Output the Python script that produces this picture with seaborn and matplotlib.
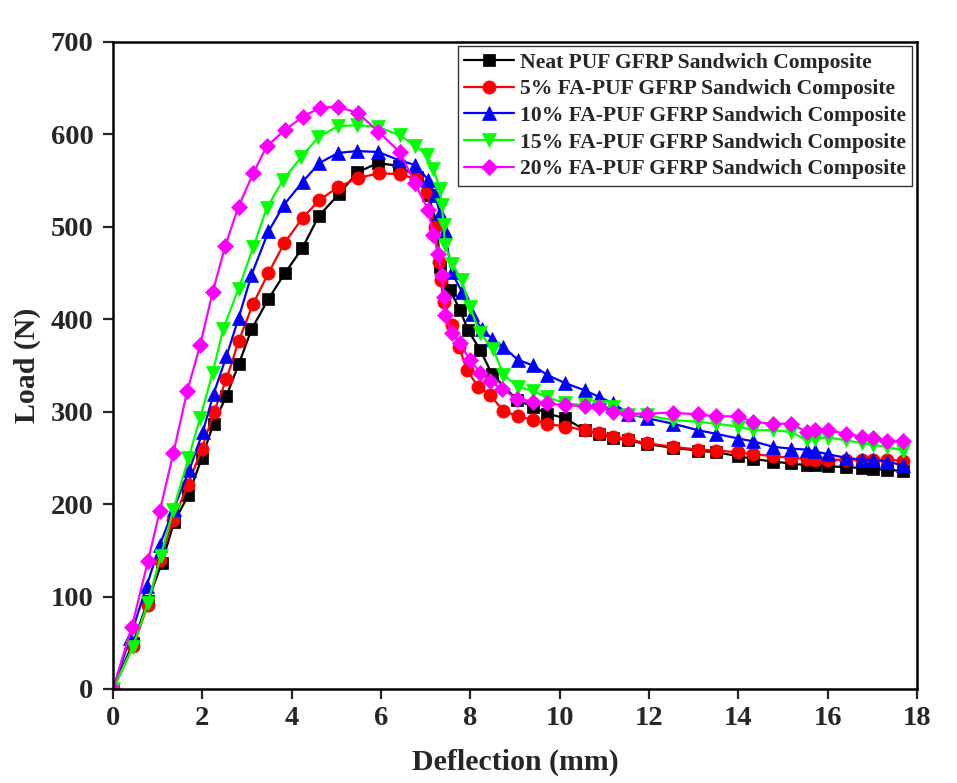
import matplotlib
matplotlib.use("Agg")
import matplotlib.pyplot as plt
import seaborn as sns
import pandas as pd

labels = ["Neat PUF GFRP Sandwich Composite",
          "5% FA-PUF GFRP Sandwich Composite",
          "10% FA-PUF GFRP Sandwich Composite",
          "15% FA-PUF GFRP Sandwich Composite",
          "20% FA-PUF GFRP Sandwich Composite"]

x_neat = [0, 0.45, 0.78, 1.09, 1.37, 1.69, 1.99, 2.25, 2.54, 2.82, 3.10, 3.48, 3.85, 4.24, 4.61, 5.07, 5.47,
          5.93, 6.40, 6.80, 7.05, 7.25, 7.32, 7.54, 7.77, 7.95, 8.22, 8.48, 9.04, 9.41, 9.71, 10.12, 10.57,
          10.88, 11.2, 11.54, 11.95, 12.54, 13.10, 13.51, 14.0, 14.33, 14.78, 15.19, 15.53, 15.72, 16.01,
          16.42, 16.76, 17.02, 17.32, 17.69]
y_neat = [0, 50, 95, 136, 181, 210, 250, 287, 317, 352, 389, 422, 450, 477, 512, 536, 559,
          569, 566, 554, 535, 504, 457, 432, 410, 388, 367, 341, 313, 305, 298, 293, 280,
          276, 272, 269, 265, 261, 258, 256, 252, 249, 246, 244, 242, 242, 241,
          240, 239, 238, 237, 236]

x_5 = [0, 0.45, 0.78, 1.05, 1.35, 1.68, 1.99, 2.26, 2.54, 2.81, 3.13, 3.48, 3.83, 4.25, 4.62, 5.04, 5.49,
       5.96, 6.42, 6.78, 7.02, 7.22, 7.30, 7.34, 7.40, 7.60, 7.75, 7.92, 8.18, 8.44, 8.74, 9.07, 9.41, 9.71,
       10.12, 10.57, 10.88, 11.2, 11.54, 11.95, 12.54, 13.10, 13.51, 14.0, 14.33, 14.78, 15.19, 15.53,
       15.72, 16.01, 16.42, 16.76, 17.02, 17.32, 17.69]
y_5 = [0, 46, 91, 140, 183, 221, 260, 300, 335, 376, 416, 450, 482, 510, 529, 543, 553,
       558, 557, 552, 538, 500, 462, 442, 419, 394, 370, 345, 327, 318, 301, 295, 291, 287,
       284, 280, 277, 273, 270, 266, 262, 259, 258, 256, 254, 252, 250, 249,
       248, 248, 248, 248, 248, 248, 247]

x_10 = [0, 0.38, 0.75, 1.05, 1.36, 1.71, 2.01, 2.25, 2.54, 2.81, 3.10, 3.48, 3.83, 4.25, 4.62, 5.04, 5.47,
        5.94, 6.41, 6.76, 7.06, 7.21, 7.32, 7.43, 7.58, 7.81, 8.03, 8.25, 8.48, 8.74, 9.07, 9.41, 9.71,
        10.12, 10.57, 10.88, 11.2, 11.54, 11.95, 12.54, 13.10, 13.51, 14.0, 14.33, 14.78, 15.19, 15.53,
        15.72, 16.01, 16.42, 16.76, 17.02, 17.32, 17.69]
y_10 = [0, 55, 111, 156, 195, 237, 278, 319, 360, 401, 448, 495, 524, 549, 569, 580, 582,
        581, 572, 567, 551, 534, 515, 495, 451, 430, 406, 390, 379, 370, 356, 350, 340,
        331, 323, 316, 309, 298, 293, 287, 280, 276, 271, 268, 262, 260, 259,
        257, 254, 250, 248, 248, 246, 242]

x_15 = [0, 0.44, 0.78, 1.07, 1.35, 1.69, 1.95, 2.23, 2.47, 2.81, 3.14, 3.44, 3.81, 4.22, 4.60, 5.04, 5.47,
        5.94, 6.42, 6.76, 7.02, 7.17, 7.32, 7.36, 7.40, 7.43, 7.60, 7.81, 7.99, 8.22, 8.51, 8.74, 9.07,
        9.41, 9.71, 10.12, 10.57, 10.88, 11.2, 11.54, 11.95, 12.54, 13.10, 13.51, 14.0, 14.33, 14.78,
        15.19, 15.53, 15.72, 16.01, 16.42, 16.76, 17.02, 17.32, 17.69]
y_15 = [0, 45, 93, 144, 194, 250, 293, 342, 390, 433, 478, 520, 551, 576, 597, 609, 610,
        608, 599, 588, 578, 563, 541, 524, 502, 480, 460, 442, 413, 385, 368, 340, 327,
        322, 316, 309, 307, 305, 305, 296, 296, 291, 289, 287, 284, 280, 280,
        278, 269, 271, 272, 269, 266, 264, 262, 258]

x_20 = [0, 0.42, 0.78, 1.05, 1.35, 1.66, 1.95, 2.23, 2.51, 2.81, 3.14, 3.44, 3.85, 4.25, 4.63, 5.04, 5.49,
        5.94, 6.42, 6.76, 7.06, 7.17, 7.28, 7.36, 7.40, 7.43, 7.58, 7.77, 7.99, 8.22, 8.44, 8.70, 9.04,
        9.41, 9.71, 10.12, 10.57, 10.88, 11.2, 11.54, 11.95, 12.54, 13.10, 13.51, 14.0, 14.33, 14.78,
        15.19, 15.53, 15.72, 16.01, 16.42, 16.76, 17.02, 17.32, 17.69]
y_20 = [0, 67, 138, 193, 255, 322, 372, 429, 479, 522, 558, 587, 605, 619, 629, 630, 623,
        603, 581, 547, 518, 491, 471, 448, 424, 405, 385, 374, 356, 342, 333, 325, 314,
        311, 309, 307, 306, 305, 300, 298, 298, 299, 297, 295, 295, 289, 287,
        287, 278, 280, 280, 276, 273, 272, 268, 268]

xs = [x_neat, x_5, x_10, x_15, x_20]
ys = [y_neat, y_5, y_10, y_15, y_20]
colors = ["#000000", "#ff0000", "#0000ff", "#00ff00", "#ff00ff"]
markers = ["s", "o", "^", "v", "D"]
msizes = [8, 9.5, 9.5, 9.5, 8.5]

sns.set_theme(style="ticks")
plt.rcParams["font.family"] = ["Liberation Serif", "DejaVu Serif"]
plt.rcParams["font.weight"] = "bold"

fig = plt.figure(figsize=(9.57, 7.83), dpi=100)
ax = fig.add_axes([113/957, 1-689/783, (917-113)/957, (689-42)/783])

for x, y, lab, c, m, ms in zip(xs, ys, labels, colors, markers, msizes):
    df = pd.DataFrame({"Deflection": x, "Load": y})
    sns.lineplot(data=df, x="Deflection", y="Load", ax=ax, color=c, marker=m,
                 markersize=ms, markeredgecolor=c, markeredgewidth=0.5,
                 linewidth=1.6, label=lab, sort=False, estimator=None)

ax.set_xlim(0, 18)
ax.set_ylim(0, 700)
ax.set_xticks(range(0, 19, 2))
ax.set_yticks(range(0, 701, 100))
ax.tick_params(axis="both", direction="out", length=7, width=1.6, labelsize=20.5)
ax.tick_params(axis="x", pad=5)
ax.tick_params(axis="y", pad=7)
for lbl in ax.get_xticklabels() + ax.get_yticklabels():
    lbl.set_fontweight("bold")
for s in ax.spines.values():
    s.set_linewidth(1.8)
    s.set_color("black")
ax.set_xlabel("Deflection (mm)", fontsize=21.5, fontweight="bold", labelpad=13)
ax.set_ylabel("Load (N)", fontsize=21.5, fontweight="bold", labelpad=7)

leg = ax.legend(loc="upper right", bbox_to_anchor=(0.994, 0.994),
                prop={"weight": "bold", "size": 15.6}, frameon=True, fancybox=False,
                handlelength=2.3, handletextpad=0.25, borderpad=0.3, labelspacing=0.3,
                borderaxespad=0.0)
leg.get_frame().set_edgecolor("black")
leg.get_frame().set_linewidth(1.0)

fig.savefig("out.png", dpi=100)
